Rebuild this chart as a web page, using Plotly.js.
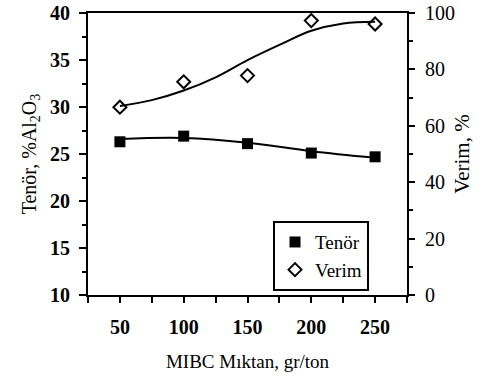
<!DOCTYPE html>
<html><head><meta charset="utf-8">
<script src="https://cdn.plot.ly/plotly-3.0.1.min.js"></script>
<style>html,body{margin:0;padding:0;background:#fff}#c{width:485px;height:378px}</style>
</head><body><div id="c"></div>
<script>
const mibc = [50, 100, 150, 200, 250];
const tenor = [26.3, 26.9, 26.1, 25.1, 24.7];
const verim = [66.6, 75.6, 77.8, 97.3, 96.1];
const tenorFitX = [50, 100, 150, 200, 250];
const tenorFit = [26.6, 26.7, 26.2, 25.3, 24.6];
const verimFitX = [50, 75, 100, 125, 150, 175, 200, 225, 250];
const verimFit = [67.0, 69.1, 72.5, 77.2, 83.3, 88.7, 93.7, 96.3, 96.9];
const xTicks = [50, 100, 150, 200, 250];

const serif = 'Liberation Serif';
const traces = [
  {x: tenorFitX, y: tenorFit, mode: 'lines', line: {color: '#000', width: 2, shape: 'spline'}, showlegend: false, hoverinfo: 'skip'},
  {x: verimFitX, y: verimFit, yaxis: 'y2', mode: 'lines', line: {color: '#000', width: 2, shape: 'spline'}, showlegend: false, hoverinfo: 'skip'},
  {x: mibc, y: tenor, name: 'Tenör', mode: 'markers', marker: {symbol: 'square', size: 11, color: '#000'}},
  {x: mibc, y: verim, yaxis: 'y2', name: 'Verim', mode: 'markers', marker: {symbol: 'diamond-open', size: 10, color: '#000', line: {width: 2, color: '#000'}}}
];
const layout = {
  width: 485, height: 378,
  margin: {l: 88, r: 78, t: 13, b: 83},
  paper_bgcolor: '#fff', plot_bgcolor: '#fff',
  font: {family: serif, color: '#000'},
  showlegend: true,
  legend: {x: 0.58, y: 0.262, xanchor: 'left', yanchor: 'top', bordercolor: '#000', borderwidth: 2,
           bgcolor: '#fff', font: {family: serif, size: 19, color: '#000'}, tracegroupgap: 0, itemwidth: 30},
  xaxis: {range: [25, 275], tickvals: xTicks, ticks: 'outside', ticklen: 6, tickwidth: 2, tickcolor: '#000',
          minor: {dtick: 25, tick0: 25, ticks: 'outside', ticklen: 6, tickwidth: 2, tickcolor: '#000'},
          showline: true, linewidth: 2, linecolor: '#000', mirror: true, showgrid: false, zeroline: false,
          ticklabelstandoff: 7,
          tickfont: {family: serif, size: 20, color: '#000', weight: 'bold'},
          title: {text: 'MIBC Mıktan, gr/ton', font: {family: serif, size: 19, color: '#000'}, standoff: 18}},
  yaxis: {range: [10, 40], dtick: 5, ticks: 'outside', ticklen: 7, tickwidth: 2, tickcolor: '#000',
          minor: {dtick: 2.5, ticks: 'outside', ticklen: 4, tickwidth: 2, tickcolor: '#000'},
          showline: true, linewidth: 2, linecolor: '#000', showgrid: false, zeroline: false,
          ticklabelstandoff: 5,
          tickfont: {family: serif, size: 20, color: '#000', weight: 'bold'},
          title: {text: 'Tenör, %Al<sub>2</sub>O<sub>3</sub>', font: {family: serif, size: 20, color: '#000'}, standoff: 8}},
  yaxis2: {range: [0, 100], dtick: 20, overlaying: 'y', side: 'right', ticks: 'outside', ticklen: 6, tickwidth: 2, tickcolor: '#000',
          minor: {dtick: 10, ticks: 'outside', ticklen: 4, tickwidth: 2, tickcolor: '#000'},
          showline: true, linewidth: 2, linecolor: '#000', showgrid: false, zeroline: false,
          ticklabelstandoff: 6,
          tickfont: {family: serif, size: 20, color: '#000'},
          title: {text: 'Verim, %', font: {family: serif, size: 21, color: '#000'}, standoff: 0}}
};
Plotly.newPlot('c', traces, layout, {displayModeBar: false, staticPlot: true});
</script></body></html>
